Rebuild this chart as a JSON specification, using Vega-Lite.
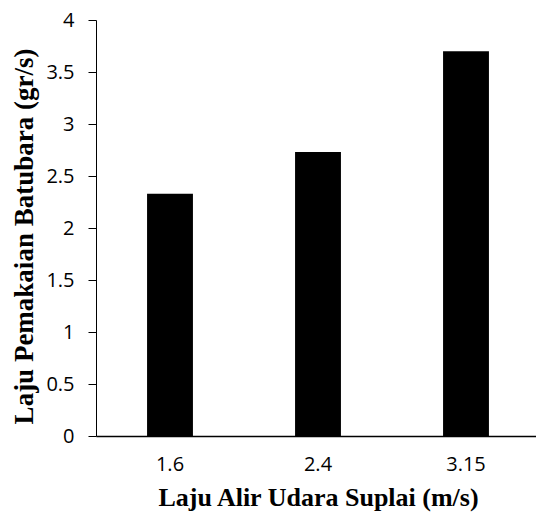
{
  "$schema": "https://vega.github.io/schema/vega-lite/v6.json",
  "autosize": "none",
  "padding": {"left": 96, "top": 20, "right": 0, "bottom": 82},
  "width": 444,
  "height": 416,
  "background": "white",
  "data": {"values": [
    {"x": "1.6", "y": 2.33},
    {"x": "2.4", "y": 2.73},
    {"x": "3.15", "y": 3.70}
  ]},
  "mark": {"type": "bar", "color": "black"},
  "encoding": {
    "x": {"field": "x", "type": "nominal", "sort": null,
      "scale": {"paddingInner": 0.69, "paddingOuter": 0.345},
      "axis": {"title": "Laju Alir Udara Suplai (m/s)", "labelAngle": 0, "ticks": false,
        "labelFont": "Open Sans", "labelFontSize": 20, "labelColor": "black", "labelPadding": 18,
        "titleFont": "Liberation Serif", "titleFontSize": 26, "titleFontWeight": "bold", "titleColor": "black",
        "titlePadding": 10,
        "domainColor": "black", "domainWidth": 1.5}},
    "y": {"field": "y", "type": "quantitative",
      "scale": {"domain": [0, 4]},
      "axis": {"title": "Laju Pemakaian Batubara (gr/s)", "values": [0, 0.5, 1, 1.5, 2, 2.5, 3, 3.5, 4],
        "format": "~g",
        "grid": false, "tickSize": 8, "tickColor": "black", "domainColor": "black",
        "labelFont": "Open Sans", "labelFontSize": 20, "labelColor": "black", "labelPadding": 14,
        "titleFont": "Liberation Serif", "titleFontSize": 27, "titleFontWeight": "bold", "titleColor": "black",
        "titlePadding": 7, "titleY": 216}}
  },
  "config": {"view": {"stroke": null}}
}
